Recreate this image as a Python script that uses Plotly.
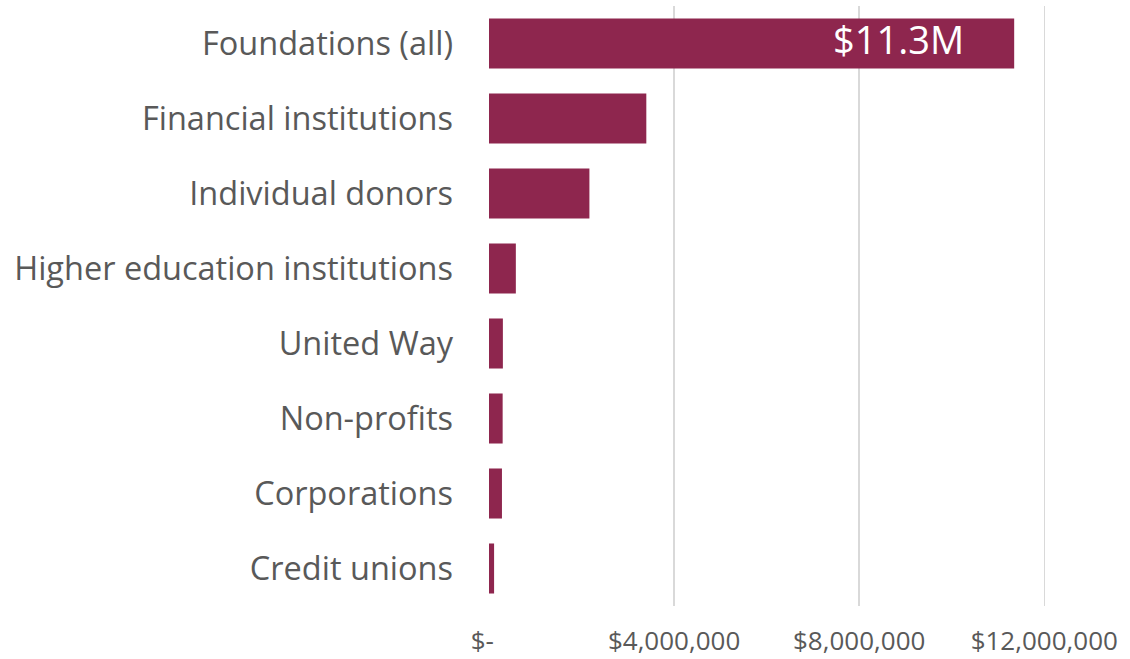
import plotly.graph_objects as go

categories = ["Foundations (all)", "Financial institutions", "Individual donors",
              "Higher education institutions", "United Way", "Non-profits",
              "Corporations", "Credit unions"]
values = [11_350_000, 3_400_000, 2_170_000, 580_000, 300_000, 295_000, 280_000, 110_000]
tick_values = [0, 4_000_000, 8_000_000, 12_000_000]
tick_labels = ["$-\u00a0\u00a0", "$4,000,000", "$8,000,000", "$12,000,000"]
bar_label = "$11.3M"

BAR = "#8E264E"
TXT = "#595959"
FONT = "Open Sans"

fig = go.Figure()
fig.add_trace(go.Bar(
    x=values, y=categories, orientation="h",
    marker=dict(color=BAR, line=dict(width=0)),
    hoverinfo="skip",
))
fig.add_annotation(
    x=values[0], y=categories[0], text=bar_label, showarrow=False,
    xanchor="right", xshift=-48, yshift=5,
    font=dict(family=FONT, size=38, color="white"),
)
fig.update_layout(
    width=1130, height=659,
    margin=dict(l=489, r=0, t=6, b=53, pad=0),
    paper_bgcolor="white", plot_bgcolor="white",
    showlegend=False, bargap=0.333,
    font=dict(family=FONT, color=TXT),
    xaxis=dict(
        range=[0, 13_853_000], tickvals=tick_values, ticktext=tick_labels,
        showgrid=True, gridcolor="#D9D9D9", gridwidth=1.5,
        zeroline=False, showline=False, ticks="", automargin=False,
        tickfont=dict(family=FONT, size=26, color=TXT),
        ticklabelstandoff=17,
    ),
    yaxis=dict(
        categoryorder="array", categoryarray=categories[::-1],
        range=[-0.5, 7.5], automargin=False,
        showgrid=False, zeroline=False, showline=False, ticks="",
        tickfont=dict(family=FONT, size=32.5, color=TXT),
        ticklabelstandoff=35,
    ),
)
fig.write_html(
    "out.html",
    config={"displayModeBar": False, "staticPlot": True},
    post_script="document.body.style.margin='0';document.body.style.overflow='hidden';",
)
